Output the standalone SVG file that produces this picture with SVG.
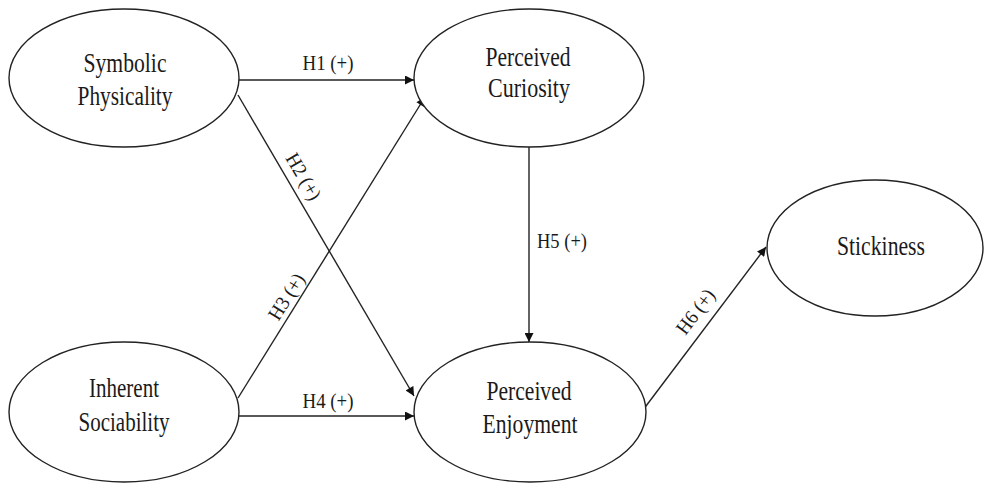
<svg xmlns="http://www.w3.org/2000/svg" width="985" height="483" viewBox="0 0 985 483">
<defs>
<marker id="arr" viewBox="0 0 10 10" refX="10" refY="5" markerWidth="10" markerHeight="9" markerUnits="userSpaceOnUse" orient="auto">
<path d="M0,0 L10,5 L0,10 z" fill="#111"/>
</marker>
<style>
.node ellipse{fill:#fff;stroke:#222;stroke-width:1.4}
.nt{font-family:"Liberation Serif","Times New Roman",serif;font-size:27px;fill:#1a1a1a;text-anchor:middle}
.edge{stroke:#222;stroke-width:1.4;fill:none;marker-end:url(#arr)}
.lab{font-family:"Liberation Serif","Times New Roman",serif;font-size:20px;fill:#1a1a1a;text-anchor:middle}
</style>
</defs>
<rect width="985" height="483" fill="#fff"/>
<g id="connectors">
<line class="edge" x1="239" y1="80" x2="414" y2="80"/>
<line class="edge" x1="238" y1="95" x2="414" y2="396"/>
<line class="edge" x1="238" y1="398" x2="425" y2="97"/>
<line class="edge" x1="239" y1="416" x2="414" y2="416"/>
<line class="edge" x1="529" y1="147" x2="529" y2="342"/>
<line class="edge" x1="643" y1="410" x2="766" y2="247"/>
<text class="lab" x="328" y="70" textLength="51" lengthAdjust="spacingAndGlyphs">H1 (+)</text>
<text class="lab" transform="translate(303,177) rotate(59.6)" x="0" y="6" textLength="51" lengthAdjust="spacingAndGlyphs">H2 (+)</text>
<text class="lab" transform="translate(287,297) rotate(-58)" x="0" y="6" textLength="51" lengthAdjust="spacingAndGlyphs">H3 (+)</text>
<text class="lab" x="328" y="408" textLength="51" lengthAdjust="spacingAndGlyphs">H4 (+)</text>
<text class="lab" x="562" y="248" textLength="50" lengthAdjust="spacingAndGlyphs">H5 (+)</text>
<text class="lab" transform="translate(696,312) rotate(-53)" x="0" y="6" textLength="51" lengthAdjust="spacingAndGlyphs">H6 (+)</text>
</g>
<g id="symbolic-physicality" class="node">
<ellipse cx="124" cy="78" rx="115" ry="69"/>
<text class="nt" x="125" y="72" textLength="83" lengthAdjust="spacingAndGlyphs">Symbolic</text>
<text class="nt" x="125" y="105" textLength="95" lengthAdjust="spacingAndGlyphs">Physicality</text>
</g>
<g id="perceived-curiosity" class="node">
<ellipse cx="529" cy="78" rx="115" ry="69"/>
<text class="nt" x="528" y="66" textLength="85" lengthAdjust="spacingAndGlyphs">Perceived</text>
<text class="nt" x="529" y="97" textLength="82" lengthAdjust="spacingAndGlyphs">Curiosity</text>
</g>
<g id="inherent-sociability" class="node">
<ellipse cx="124" cy="412" rx="115" ry="70"/>
<text class="nt" x="124" y="397" textLength="70" lengthAdjust="spacingAndGlyphs">Inherent</text>
<text class="nt" x="124" y="431" textLength="91" lengthAdjust="spacingAndGlyphs">Sociability</text>
</g>
<g id="perceived-enjoyment" class="node">
<ellipse cx="530" cy="412" rx="116" ry="70"/>
<text class="nt" x="529" y="400" textLength="85" lengthAdjust="spacingAndGlyphs">Perceived</text>
<text class="nt" x="530" y="433" textLength="95" lengthAdjust="spacingAndGlyphs">Enjoyment</text>
</g>
<g id="stickiness" class="node">
<ellipse cx="875" cy="248" rx="108" ry="68"/>
<text class="nt" x="881" y="255" textLength="88" lengthAdjust="spacingAndGlyphs">Stickiness</text>
</g>
</svg>
